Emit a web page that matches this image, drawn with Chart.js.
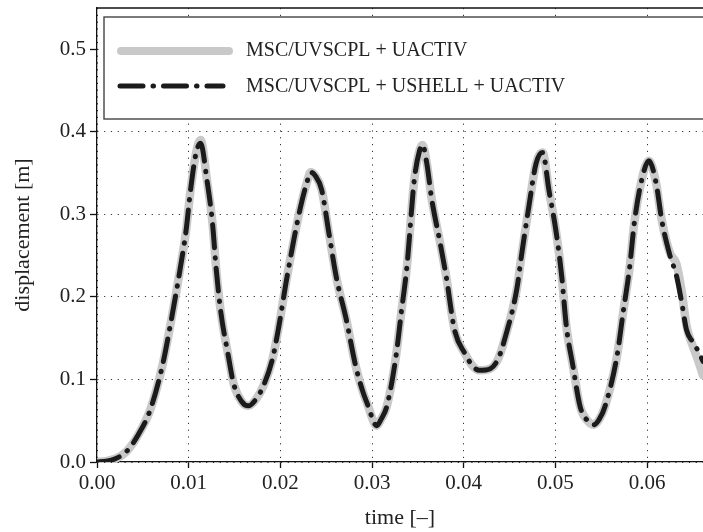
<!DOCTYPE html>
<html>
<head>
<meta charset="utf-8">
<script src="https://cdn.jsdelivr.net/npm/chart.js@4.4.1/dist/chart.umd.min.js"></script>
<style>
  html, body { margin: 0; padding: 0; background: #fff; }
  #chart { display: block; }
</style>
</head>
<body>
<canvas id="chart" width="703" height="532"></canvas>
<script>
const time = [
  0, 0.001, 0.002, 0.0032, 0.0045, 0.0058, 0.0071, 0.0081, 0.0091, 0.0097,
  0.0102, 0.0108, 0.0113, 0.0120, 0.0126, 0.0130, 0.0135, 0.0143, 0.0149, 0.0158,
  0.0165, 0.0174, 0.0181, 0.0191, 0.0198, 0.0206, 0.0215, 0.0222, 0.0229, 0.0233,
  0.0238, 0.0245, 0.0253, 0.0261, 0.0272, 0.0282, 0.0290, 0.0296, 0.0302, 0.0305,
  0.0310, 0.0316, 0.0326, 0.0332, 0.0338, 0.0346, 0.0352, 0.0355, 0.0360, 0.0365,
  0.0374, 0.0381, 0.0390, 0.0401, 0.0410, 0.0417, 0.0429, 0.0438, 0.0445, 0.0458,
  0.0463, 0.0471, 0.0479, 0.0486, 0.0493, 0.0501, 0.0507, 0.0512, 0.0519, 0.0527,
  0.0535, 0.0542, 0.0548, 0.0554, 0.0567, 0.0574, 0.0581, 0.0586, 0.0594, 0.0602,
  0.0610, 0.0616, 0.0625, 0.0632, 0.0638, 0.0643, 0.0650, 0.0656, 0.0661
];

// MSC/UVSCPL + UACTIV (grey)
const dispUact = [
  0, 0.001, 0.004, 0.0125, 0.033, 0.063, 0.115, 0.172, 0.236, 0.279,
  0.329, 0.374, 0.390, 0.341, 0.289, 0.234, 0.182, 0.130, 0.095, 0.073,
  0.068, 0.077, 0.091, 0.123, 0.162, 0.216, 0.271, 0.309, 0.339, 0.351,
  0.347, 0.330, 0.277, 0.224, 0.172, 0.117, 0.085, 0.067, 0.048, 0.044,
  0.052, 0.067, 0.127, 0.182, 0.236, 0.341, 0.378, 0.384, 0.360, 0.319,
  0.267, 0.224, 0.160, 0.132, 0.116, 0.111, 0.113, 0.126, 0.150, 0.210,
  0.250, 0.309, 0.362, 0.375, 0.329, 0.277, 0.224, 0.164, 0.117, 0.067,
  0.050, 0.045, 0.052, 0.067, 0.127, 0.182, 0.236, 0.289, 0.341, 0.365,
  0.337, 0.293, 0.253, 0.240, 0.205, 0.165, 0.140, 0.122, 0.105
];

// MSC/UVSCPL + USHELL + UACTIV (black dash-dot)
const dispUshell = [
  0, 0.001, 0.004, 0.0125, 0.033, 0.063, 0.115, 0.172, 0.236, 0.279,
  0.329, 0.374, 0.386, 0.341, 0.289, 0.234, 0.182, 0.130, 0.095, 0.073,
  0.068, 0.077, 0.091, 0.123, 0.162, 0.216, 0.271, 0.309, 0.339, 0.351,
  0.347, 0.330, 0.277, 0.224, 0.172, 0.117, 0.085, 0.067, 0.048, 0.044,
  0.052, 0.067, 0.127, 0.182, 0.236, 0.341, 0.378, 0.384, 0.360, 0.319,
  0.267, 0.224, 0.160, 0.132, 0.116, 0.111, 0.113, 0.126, 0.150, 0.210,
  0.250, 0.309, 0.362, 0.375, 0.329, 0.277, 0.224, 0.164, 0.117, 0.067,
  0.050, 0.045, 0.052, 0.067, 0.127, 0.182, 0.236, 0.289, 0.341, 0.365,
  0.337, 0.293, 0.250, 0.226, 0.192, 0.160, 0.145, 0.134, 0.122
];

const xTicks = [0, 0.01, 0.02, 0.03, 0.04, 0.05, 0.06];
const yTicks = [0, 0.1, 0.2, 0.3, 0.4, 0.5];
const seriesNames = ["MSC/UVSCPL + UACTIV", "MSC/UVSCPL + USHELL + UACTIV"];

const FONT = "'Liberation Serif', 'DejaVu Serif', serif";
const GREY = "#c9c9c9";
const DARK = "#1b1b1b";
const DASHDOT = [23, 10, 0.5, 10];

const points = ys => time.map((t, i) => ({ x: t, y: ys[i] }));

// top frame line + legend box drawn on top of the grid
const frameAndLegend = {
  id: "frameAndLegend",
  afterDatasetsDraw(chart) {
    const { ctx, chartArea } = chart;
    ctx.save();
    ctx.strokeStyle = "#111";
    ctx.lineWidth = 1.3;
    ctx.beginPath();
    ctx.moveTo(chartArea.left, chartArea.top);
    ctx.lineTo(chartArea.right + 2, chartArea.top);
    ctx.stroke();

    // legend box
    const bx = 104, by = 17, bw = 620, bh = 102;
    ctx.fillStyle = "#fff";
    ctx.fillRect(bx, by, bw, bh);
    ctx.strokeStyle = "#444";
    ctx.lineWidth = 1.4;
    ctx.strokeRect(bx, by, bw, bh);

    ctx.lineCap = "round";
    ctx.strokeStyle = GREY;
    ctx.lineWidth = 8;
    ctx.setLineDash([]);
    ctx.beginPath();
    ctx.moveTo(121, 51);
    ctx.lineTo(229, 51);
    ctx.stroke();

    ctx.strokeStyle = DARK;
    ctx.lineWidth = 5;
    ctx.setLineDash(DASHDOT);
    ctx.beginPath();
    ctx.moveTo(120, 86);
    ctx.lineTo(223, 86);
    ctx.stroke();
    ctx.setLineDash([]);

    ctx.fillStyle = "#222";
    ctx.font = "20px " + FONT;
    ctx.textBaseline = "middle";
    ctx.textAlign = "left";
    ctx.fillText(seriesNames[0], 246, 51);
    ctx.fillText(seriesNames[1], 246, 87);
    ctx.restore();
  }
};

new Chart(document.getElementById("chart"), {
  type: "line",
  data: {
    datasets: [
      {
        label: seriesNames[0],
        data: points(dispUact),
        order: 2,
        borderColor: GREY,
        borderWidth: 8.5,
        pointRadius: 0,
        cubicInterpolationMode: "monotone",
        borderCapStyle: "round",
        borderJoinStyle: "round"
      },
      {
        label: seriesNames[1],
        data: points(dispUshell),
        order: 1,
        borderColor: DARK,
        borderWidth: 5,
        borderDash: DASHDOT,
        borderCapStyle: "round",
        borderJoinStyle: "round",
        pointRadius: 0,
        cubicInterpolationMode: "monotone"
      }
    ]
  },
  options: {
    responsive: false,
    animation: false,
    layout: { padding: { top: 8, right: 0, left: 0, bottom: 0 } },
    plugins: {
      legend: { display: false },
      tooltip: { enabled: false }
    },
    scales: {
      x: {
        type: "linear",
        min: 0,
        max: 0.0661,
        afterBuildTicks: s => { s.ticks = xTicks.map(v => ({ value: v })); },
        afterFit: s => { s.height = 70; s.paddingLeft = 0; s.paddingRight = 0; },
        ticks: {
          color: "#222",
          font: { family: FONT, size: 21 },
          padding: 3,
          maxRotation: 0,
          callback: v => Number(v).toFixed(2)
        },
        grid: {
          color: "#333",
          lineWidth: 1,
          tickLength: 6,
          tickColor: "#111",
          tickWidth: 1.3,
          tickBorderDash: []
        },
        border: { display: true, color: "#111", width: 1.3, dash: [1.2, 5.6] },
        title: {
          display: true,
          text: "time [–]",
          color: "#222",
          font: { family: FONT, size: 22 },
          padding: { top: 0, bottom: 1 }
        }
      },
      y: {
        type: "linear",
        min: 0,
        max: 0.55,
        afterBuildTicks: s => { s.ticks = yTicks.map(v => ({ value: v })); },
        afterFit: s => { s.width = 97; s.paddingTop = 0; s.paddingBottom = 0; },
        ticks: {
          color: "#222",
          font: { family: FONT, size: 21 },
          padding: 4,
          callback: v => Number(v).toFixed(1)
        },
        grid: {
          color: "#333",
          lineWidth: 1,
          tickLength: 7,
          tickColor: "#111",
          tickWidth: 1.3,
          tickBorderDash: []
        },
        border: { display: true, color: "#111", width: 1.3, dash: [1.2, 5.6] },
        title: {
          display: true,
          text: "displacement [m]",
          color: "#222",
          font: { family: FONT, size: 22 },
          padding: { top: 10, bottom: 0 }
        }
      }
    }
  },
  plugins: [frameAndLegend]
});
</script>
</body>
</html>
